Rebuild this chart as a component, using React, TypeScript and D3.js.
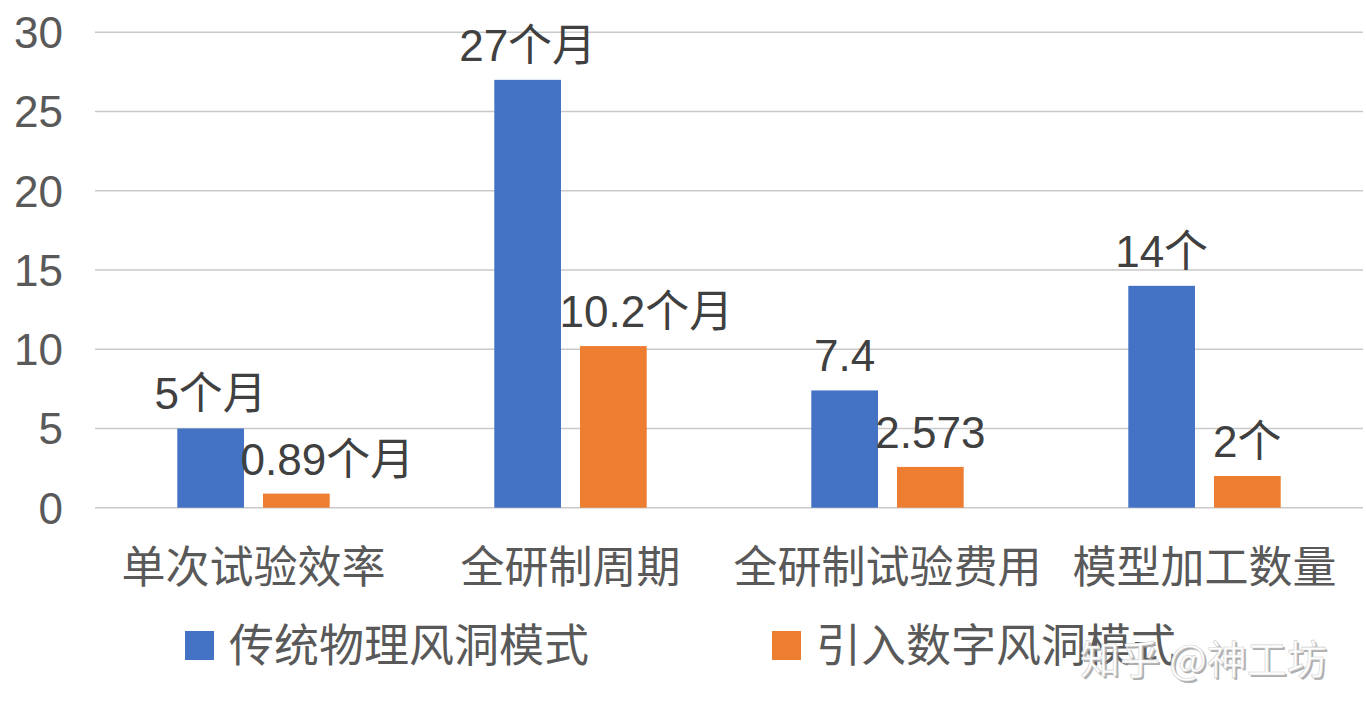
import React from "react";
import * as d3 from "d3";

const categories = ["单次试验效率", "全研制周期", "全研制试验费用", "模型加工数量"];
const seriesNames = ["传统物理风洞模式", "引入数字风洞模式"];
const traditional = [5, 27, 7.4, 14];
const digital = [0.89, 10.2, 2.573, 2];
const traditionalLabels = ["5个月", "27个月", "7.4", "14个"];
const digitalLabels = ["0.89个月", "10.2个月", "2.573", "2个"];
const yTicks = [0, 5, 10, 15, 20, 25, 30];

const W = 1366;
const H = 715;
const FONT = "'Liberation Sans', Arial, 'Noto Sans CJK SC', sans-serif";
const COLORS = ["#4472C4", "#ED7D31"];

export default function App() {
  const x0 = d3.scaleBand<string>().domain(categories).range([95, 1363]).paddingInner(0).paddingOuter(0);
  const x1 = d3
    .scaleBand<string>()
    .domain(seriesNames)
    .range([82.3, x0.bandwidth() - 82.3])
    .paddingInner(0.222)
    .paddingOuter(0);
  const y = d3.scaleLinear().domain([0, 30]).range([507.7, 32.3]);

  const series = [
    { name: seriesNames[0], values: traditional, labels: traditionalLabels },
    { name: seriesNames[1], values: digital, labels: digitalLabels },
  ];
  // manual label nudges (as in the original, some labels were moved)
  const labelDx = [
    [0, 0, 0, 0],
    [31, 33, 0, 0],
  ];

  return (
    <svg
      width={W}
      height={H}
      style={{ position: "absolute", left: 0, top: 0, background: "#fff" }}
      fontFamily={FONT}
    >
      <rect width={W} height={H} fill="#fff" />
      {yTicks.map((t) => (
        <g key={t}>
          <line x1={95} x2={1363} y1={y(t)} y2={y(t)} stroke="#C9C9C9" strokeWidth={1.5} />
          <text x={63} y={y(t)} dy="0.36em" textAnchor="end" fontSize={44} fill="#595959">
            {t}
          </text>
        </g>
      ))}
      {series.map((s, si) =>
        categories.map((c, ci) => {
          const bx = (x0(c) ?? 0) + (x1(s.name) ?? 0);
          const bw = x1.bandwidth();
          const top = y(s.values[ci]);
          return (
            <g key={si + "-" + ci}>
              <rect x={bx} y={top} width={bw} height={y(0) - top} fill={COLORS[si]} />
              <text
                x={bx + bw / 2 + labelDx[si][ci]}
                y={top - 19}
                textAnchor="middle"
                fontSize={44}
                fill="#404040"
              >
                {s.labels[ci]}
              </text>
            </g>
          );
        })
      )}
      {categories.map((c) => (
        <text
          key={c}
          x={(x0(c) ?? 0) + x0.bandwidth() / 2}
          y={583}
          textAnchor="middle"
          fontSize={44}
          fill="#595959"
        >
          {c}
        </text>
      ))}
      {seriesNames.map((n, i) => {
        const lx = i === 0 ? 185 : 772;
        return (
          <g key={n}>
            <rect x={lx} y={631} width={29} height={29} fill={COLORS[i]} />
            <text x={lx + 44} y={662} fontSize={45} fill="#595959">
              {n}
            </text>
          </g>
        );
      })}
      <g fontSize={40} fontFamily="'Noto Sans CJK SC', sans-serif">
        <text x={1080} y={674} fill="#9a9a9a" opacity={0.8} transform="translate(2,2)">
          知乎 @神工坊
        </text>
        <text x={1080} y={674} fill="#ffffff" stroke="#d0d0d0" strokeWidth={0.6}>
          知乎 @神工坊
        </text>
      </g>
    </svg>
  );
}
